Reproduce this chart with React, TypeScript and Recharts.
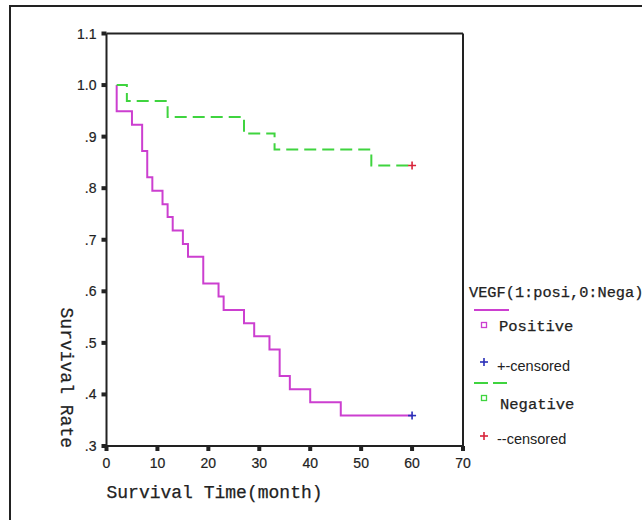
import {
  ComposedChart,
  Line,
  Scatter,
  XAxis,
  YAxis,
  ReferenceLine,
  Legend,
  Label,
} from 'recharts';

// Kaplan-Meier steps
const positiveTime = [2, 2, 5, 7, 8, 9, 11, 12, 13, 15, 16, 19, 22, 23, 27, 29, 32, 34, 36, 40, 46, 60];
const positiveSurv = [1.0, 0.949, 0.923, 0.872, 0.821, 0.795, 0.769, 0.744, 0.718, 0.692, 0.667, 0.615, 0.59, 0.564, 0.538, 0.513, 0.487, 0.436, 0.41, 0.385, 0.359, 0.359];
const negativeTime = [2, 4, 12, 27, 33, 52, 60];
const negativeSurv = [1.0, 0.969, 0.938, 0.906, 0.875, 0.844, 0.844];

const positiveCensored = [{ x: 60, y: 0.359 }];
const negativeCensored = [{ x: 60, y: 0.844 }];

const xTicks = [0, 10, 20, 30, 40, 50, 60, 70];
const yTicks = [0.3, 0.4, 0.5, 0.6, 0.7, 0.8, 0.9, 1.0, 1.1];

const legendTitle = 'VEGF(1:posi,0:Nega)';
const positiveName = 'Positive';
const negativeName = 'Negative';
const positiveCensName = '+-censored';
const negativeCensName = '--censored';

const MAGENTA = '#cc3fd0';
const GREEN = '#3fd43f';
const BLUE = '#2a2fb8';
const RED = '#d8243a';
const INK = '#222';

const positiveData = positiveTime.map((t, i) => ({ x: t, y: positiveSurv[i] }));
const negativeData = negativeTime.map((t, i) => ({ x: t, y: negativeSurv[i] }));

const fmtY = (v: number) => (v >= 1 ? v.toFixed(1) : '.' + Math.round(v * 10));

const plus = (color: string) => (p: any) => (
  <g>
    <line x1={p.cx - 4} y1={p.cy} x2={p.cx + 4} y2={p.cy} stroke={color} strokeWidth={1.6} />
    <line x1={p.cx} y1={p.cy - 4} x2={p.cx} y2={p.cy + 4} stroke={color} strokeWidth={1.6} />
  </g>
);

const mono = '"Liberation Mono", monospace';
const sans = '"Liberation Sans", Arial, sans-serif';

// a bit heavier, closer to the SimSun-like captions
const heavy = { stroke: INK, strokeWidth: 0.25 };

const YTick = (p: any) => (
  <g>
    <rect x={p.x - 5} y={p.y - 2} width={5} height={4} fill={INK} />
    <text
      x={p.x - 10}
      y={p.y}
      textAnchor="end"
      dominantBaseline="central"
      fontFamily={sans}
      fontSize={14}
      fill={INK}
      stroke={INK}
      strokeWidth={0.2}
    >
      {fmtY(p.payload.value)}
    </text>
  </g>
);

const XTick = (p: any) => (
  <g>
    <rect x={p.x - 2} y={p.y} width={4} height={5} fill={INK} />
    <text
      x={p.x}
      y={p.y + 17}
      textAnchor="middle"
      dominantBaseline="central"
      fontFamily={sans}
      fontSize={14}
      fill={INK}
      stroke={INK}
      strokeWidth={0.2}
    >
      {p.payload.value}
    </text>
  </g>
);

const LegendBox = () => (
  <svg width={180} height={175} style={{ display: 'block', overflow: 'visible' }}>
    <text x={7} y={15} fontFamily={mono} fontSize={15.3} fill={INK} dominantBaseline="central" {...heavy}>
      {legendTitle}
    </text>
    <line x1={12} y1={32} x2={47} y2={32} stroke={MAGENTA} strokeWidth={2} />
    <rect x={19.5} y={44.5} width={5} height={5} fill="none" stroke={MAGENTA} strokeWidth={1.3} />
    <text x={37} y={49} fontFamily={mono} fontSize={15.5} fill={INK} dominantBaseline="central" {...heavy}>
      {positiveName}
    </text>
    <line x1={18} y1={84} x2={26} y2={84} stroke={BLUE} strokeWidth={1.6} />
    <line x1={22} y1={80} x2={22} y2={88} stroke={BLUE} strokeWidth={1.6} />
    <text x={35} y={88} fontFamily={sans} fontSize={14.5} fill={INK} dominantBaseline="central">
      {positiveCensName}
    </text>
    <line x1={12} y1={105} x2={47} y2={105} stroke={GREEN} strokeWidth={2} strokeDasharray="14 5" />
    <rect x={19.5} y={117.5} width={5} height={5} fill="none" stroke={GREEN} strokeWidth={1.3} />
    <text x={38} y={127} fontFamily={mono} fontSize={15.5} fill={INK} dominantBaseline="central" {...heavy}>
      {negativeName}
    </text>
    <line x1={18} y1={158} x2={26} y2={158} stroke={RED} strokeWidth={1.6} />
    <line x1={22} y1={154} x2={22} y2={162} stroke={RED} strokeWidth={1.6} />
    <text x={35} y={161} fontFamily={sans} fontSize={14.5} fill={INK} dominantBaseline="central">
      {negativeCensName}
    </text>
  </svg>
);

export default function App() {
  return (
    <div
      style={{
        position: 'absolute',
        left: 0,
        top: 0,
        width: 642,
        height: 520,
        overflow: 'hidden',
        background: '#fff',
      }}
    >
      <div
        style={{
          position: 'absolute',
          left: 9,
          top: 5,
          width: 660,
          height: 540,
          borderLeft: '2px solid #222',
          borderTop: '2px solid #222',
        }}
      />
      <ComposedChart
        width={642}
        height={520}
        margin={{ top: 33.5, right: 179, bottom: 0, left: 0 }}
        style={{ position: 'absolute', left: 0, top: 0 }}
      >
        <XAxis
          type="number"
          dataKey="x"
          domain={[0, 70]}
          ticks={xTicks}
          height={74}
          allowDataOverflow
          axisLine={{ stroke: INK, strokeWidth: 2 }}
          tickLine={false}
          tickSize={0}
          tickMargin={0}
          tick={XTick}
        >
          <Label
            content={(props: any) => (
              <text
                x={props.viewBox.x}
                y={493}
                fontFamily={mono}
                fontSize={18}
                fill={INK}
                dominantBaseline="central"
                {...heavy}
              >
                Survival Time(month)
              </text>
            )}
          />
        </XAxis>
        <YAxis
          type="number"
          dataKey="y"
          domain={[0.3, 1.1]}
          ticks={yTicks}
          width={106.5}
          allowDataOverflow
          axisLine={{ stroke: INK, strokeWidth: 2 }}
          tickLine={false}
          tickSize={0}
          tickMargin={0}
          tick={YTick}
        >
          <Label
            content={(props: any) => {
              const vb = props.viewBox;
              const cx = 66;
              const cy = vb.y + vb.height + 2;
              return (
                <text
                  x={cx}
                  y={cy}
                  transform={`rotate(90 ${cx} ${cy})`}
                  textAnchor="end"
                  dominantBaseline="central"
                  fontFamily={mono}
                  fontSize={18}
                  fill={INK}
                  {...heavy}
                >
                  Survival Rate
                </text>
              );
            }}
          />
        </YAxis>
        <ReferenceLine y={1.1} stroke={INK} strokeWidth={2} />
        <ReferenceLine x={70} stroke={INK} strokeWidth={2} />
        <Line
          data={positiveData}
          dataKey="y"
          type="stepAfter"
          stroke={MAGENTA}
          strokeWidth={2}
          dot={false}
          activeDot={false}
          isAnimationActive={false}
        />
        <Line
          data={negativeData}
          dataKey="y"
          type="stepAfter"
          stroke={GREEN}
          strokeWidth={2}
          strokeDasharray="12 6"
          dot={false}
          activeDot={false}
          isAnimationActive={false}
        />
        <Scatter data={positiveCensored} dataKey="y" shape={plus(BLUE)} isAnimationActive={false} />
        <Scatter data={negativeCensored} dataKey="y" shape={plus(RED)} isAnimationActive={false} />
        <Legend
          layout="vertical"
          align="center"
          verticalAlign="middle"
          content={() => <LegendBox />}
          wrapperStyle={{ position: 'absolute', left: 462, top: 278, width: 180, height: 175 }}
        />
      </ComposedChart>
    </div>
  );
}
